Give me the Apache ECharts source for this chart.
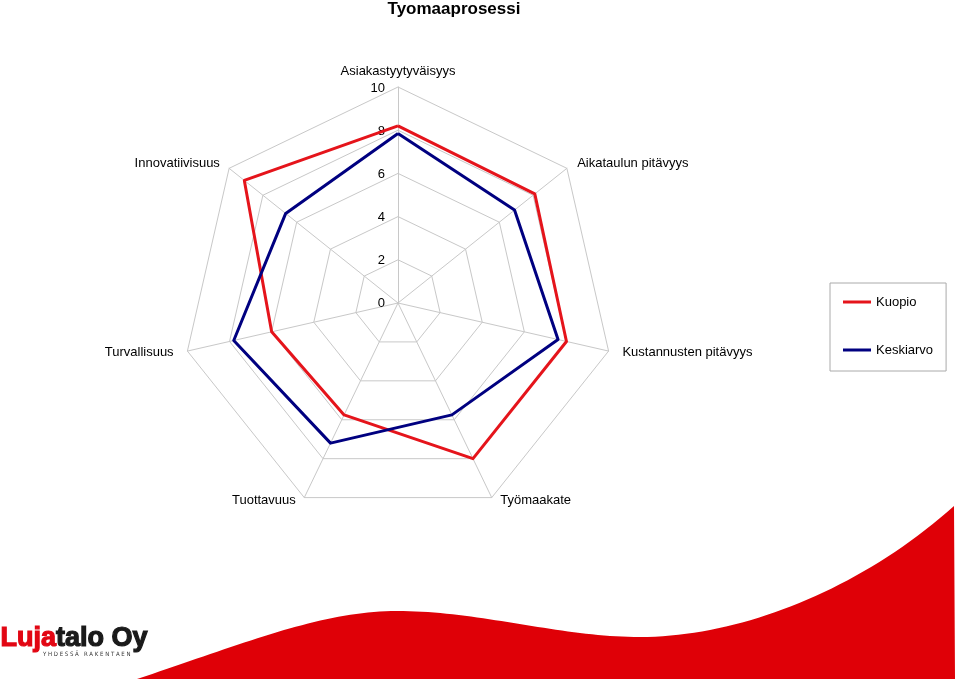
<!DOCTYPE html>
<html>
<head>
<meta charset="utf-8">
<script src="https://cdn.jsdelivr.net/npm/echarts@6/dist/echarts.min.js"></script>
<style>html,body{margin:0;padding:0;background:#fff;}#c{width:960px;height:683px;}</style>
</head>
<body>
<div id="c"></div>
<script>
// Categories in clockwise order starting from the top
const categories = ['Asiakastyytyväisyys', 'Aikataulun pitävyys', 'Kustannusten pitävyys', 'Työmaakate', 'Tuottavuus', 'Turvallisuus', 'Innovatiivisuus'];
const kuopio = [8.2, 8.1, 8.0, 8.0, 5.75, 6.0, 9.1];
const keskiarvo = [7.85, 6.9, 7.6, 5.75, 7.2, 7.8, 6.65];
const seriesNames = ['Kuopio', 'Keskiarvo'];
const tickLabels = ['0', '2', '4', '6', '8', '10'];
const axisMax = 10;

// ECharts draws radar indicators counter-clockwise; reorder so they appear clockwise
function cw(arr) { return [arr[0]].concat(arr.slice(1).reverse()); }

// label style keys per category (clockwise order), used only for small offsets
const nameStyleKeys = ['top', 'l4', 'l6', 'bl', 'br', 'r6', 'r3'];

// decorative wave of the footer, sampled from cubic bezier segments
function wavePoints() {
  const segs = [
    [[137,679],[240,645],[320,611],[397,611]],
    [[397,611],[480,611],[560,637],[640,637]],
    [[640,637],[740,637],[860,590],[954,506]]
  ];
  const pts = [];
  segs.forEach(s => {
    for (let i = 0; i <= 40; i++) {
      const t = i / 40, u = 1 - t;
      const a = u*u*u, b = 3*u*u*t, c = 3*u*t*t, d = t*t*t;
      pts.push([a*s[0][0]+b*s[1][0]+c*s[2][0]+d*s[3][0], a*s[0][1]+b*s[1][1]+c*s[2][1]+d*s[3][1]]);
    }
  });
  pts.push([955, 679]);
  return pts;
}

const chart = echarts.init(document.getElementById('c'), null, {renderer: 'canvas'});
const FONT = 'Liberation Sans, Arial, sans-serif';
const nm = {fontFamily: FONT, fontSize: 13, color: '#000'};

chart.setOption({
  backgroundColor: '#fff',
  animation: false,
  title: {
    text: 'Tyomaaprosessi', left: 449, top: -4, textAlign: 'center',
    textStyle: {fontFamily: FONT, fontSize: 17, fontWeight: 'bold', color: '#000'}
  },
  legend: {
    orient: 'vertical', left: 830, top: 283,
    padding: [12, 13, 14, 13], itemGap: 34, itemWidth: 28, itemHeight: 3,
    icon: 'rect',
    borderColor: '#aaa', borderWidth: 1, backgroundColor: '#fff',
    textStyle: {fontFamily: FONT, fontSize: 13, color: '#000', lineHeight: 14},
    data: seriesNames
  },
  grid: {left: 398, top: 88, width: 1, height: 215},
  xAxis: {type: 'value', show: false},
  yAxis: {
    type: 'value', min: 0, max: axisMax, interval: 2,
    axisLine: {show: false}, axisTick: {show: false}, splitLine: {show: false},
    axisLabel: {margin: 13, fontFamily: FONT, fontSize: 13, color: '#000',
      formatter: function (v) { return tickLabels[Math.round(v / 2)]; }}
  },
  radar: {
    center: [398, 303], radius: 216, startAngle: 90, splitNumber: 5, shape: 'polygon',
    indicator: cw(categories).map(n => ({name: n, min: 0, max: axisMax})),
    axisName: {
      fontFamily: FONT, fontSize: 13, color: '#000', verticalAlign: 'middle',
      formatter: function (name) {
        return '{' + nameStyleKeys[categories.indexOf(name)] + '|' + name + '}';
      },
      rich: {
        top: Object.assign({padding: [0, 0, 16, 0]}, nm),
        l4: Object.assign({padding: [0, 0, 0, 4]}, nm),
        l6: Object.assign({padding: [0, 0, 0, 6]}, nm),
        bl: Object.assign({padding: [0, 0, 8, 5]}, nm),
        br: Object.assign({padding: [0, 5, 8, 0]}, nm),
        r6: Object.assign({padding: [0, 6, 0, 0]}, nm),
        r3: Object.assign({padding: [0, 3, 0, 0]}, nm)
      }
    },
    nameGap: 8,
    axisLine: {lineStyle: {color: '#c8c8c8', width: 1}},
    splitLine: {lineStyle: {color: '#c8c8c8', width: 1}},
    splitArea: {show: false},
    axisLabel: {show: false}
  },
  series: [{
    type: 'radar', symbol: 'none',
    data: [
      {name: seriesNames[0], value: cw(kuopio), lineStyle: {color: '#e5141b', width: 3}, itemStyle: {color: '#e5141b'}},
      {name: seriesNames[1], value: cw(keskiarvo), lineStyle: {color: '#000080', width: 3}, itemStyle: {color: '#000080'}}
    ]
  }],
  graphic: [
    {
      type: 'polygon', silent: true, z: -1,
      shape: {points: wavePoints()},
      style: {fill: '#df0007'}
    },
    {
      type: 'text', left: 0, top: 624, silent: true,
      style: {
        text: '{r|Luja}{b|talo Oy}',
        rich: {
          r: {fill: '#e20613', stroke: '#e20613', lineWidth: 1.2, fontFamily: 'Liberation Sans, Arial', fontWeight: 'bold', fontSize: 27},
          b: {fill: '#1a1a1a', stroke: '#1a1a1a', lineWidth: 1.2, fontFamily: 'Liberation Sans, Arial', fontWeight: 'bold', fontSize: 27}
        }
      }
    },
    {
      type: 'text', left: 43, top: 651, silent: true,
      style: {text: 'Y H D E S S Ä   R A K E N T A E N', fill: '#333', fontFamily: 'DejaVu Sans Condensed, Liberation Sans', fontSize: 6}
    }
  ]
});
</script>
</body>
</html>
